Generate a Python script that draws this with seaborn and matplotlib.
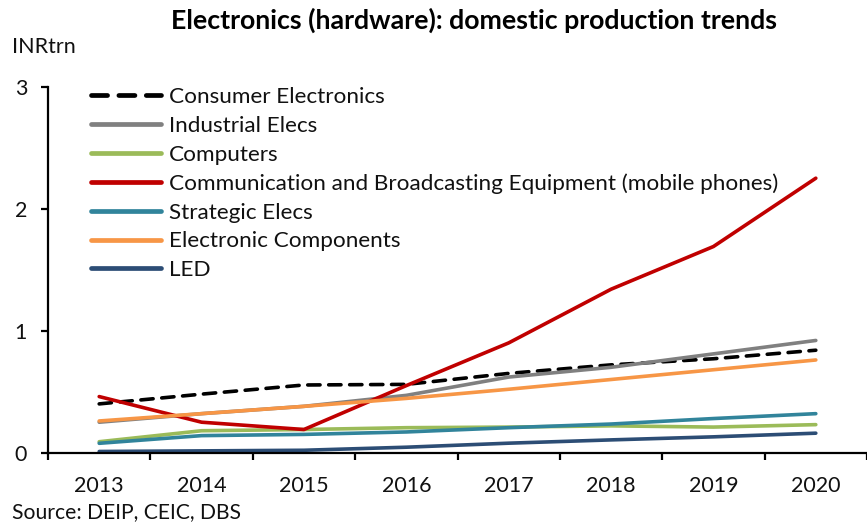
import matplotlib
matplotlib.use("Agg")
import matplotlib.pyplot as plt
import seaborn as sns
import pandas as pd

years = ["2013", "2014", "2015", "2016", "2017", "2018", "2019", "2020"]

consumer_electronics = [0.40, 0.48, 0.555, 0.56, 0.65, 0.72, 0.77, 0.84]
industrial_elecs = [0.25, 0.32, 0.38, 0.47, 0.62, 0.70, 0.81, 0.92]
computers = [0.09, 0.18, 0.19, 0.205, 0.21, 0.22, 0.21, 0.23]
communication = [0.46, 0.25, 0.19, 0.55, 0.90, 1.34, 1.69, 2.25]
strategic_elecs = [0.077, 0.14, 0.15, 0.17, 0.205, 0.235, 0.28, 0.32]
electronic_components = [0.26, 0.32, 0.38, 0.445, 0.52, 0.60, 0.68, 0.76]
led = [0.01, 0.015, 0.02, 0.045, 0.078, 0.105, 0.13, 0.16]

series_names = [
    "Consumer Electronics",
    "Industrial Elecs",
    "Computers",
    "Communication and Broadcasting Equipment (mobile phones)",
    "Strategic Elecs",
    "Electronic Components",
    "LED",
]
series_values = [
    consumer_electronics, industrial_elecs, computers, communication,
    strategic_elecs, electronic_components, led,
]
colors = ["#000000", "#808080", "#9BBB59", "#C00000", "#31849B", "#F79646", "#2C4D75"]

rows = []
for name, vals in zip(series_names, series_values):
    for i, v in enumerate(vals):
        rows.append({"pos": i, "year": years[i], "series": name, "value": v})
df = pd.DataFrame(rows)

sns.set_theme(style="white")
plt.rcParams["font.family"] = ["Lato", "DejaVu Sans"]

fig = plt.figure(figsize=(8.67, 5.24), dpi=100)
ax = fig.add_axes([48 / 867, 71.3 / 524, (867 - 48) / 867, 366 / 524])

lw = 2.6
for name, color in zip(series_names, colors):
    sub = df[df["series"] == name]
    sns.lineplot(
        data=sub, x="pos", y="value", ax=ax, color=color, linewidth=lw,
        label=name, solid_capstyle="round", dash_capstyle="round",
    )
    if name == "Consumer Electronics":
        ax.lines[-1].set_dashes((3.4, 2.4))

ax.set_xlim(-0.5, 7.468)
ax.set_ylim(0, 3)
ax.set_xticks(range(len(years)))
ax.set_xticklabels(years)
ax.set_xticks([i - 0.5 for i in range(len(years) + 1)], minor=True)
ax.set_yticks([0, 1, 2, 3])
ax.set_yticklabels(["0", "1", "2", "3"])
ax.set_xlabel("")
ax.set_ylabel("")

for side in ("top", "right"):
    ax.spines[side].set_visible(False)
for side in ("left", "bottom"):
    ax.spines[side].set_color("black")
    ax.spines[side].set_linewidth(1.6)

ax.tick_params(axis="x", which="major", length=0, pad=17, labelsize=15.5, colors="#000000")
ax.tick_params(axis="x", which="minor", length=5, width=1.6, direction="out", color="black", bottom=True)
ax.tick_params(axis="y", which="major", length=5, width=1.6, direction="out", color="black",
               labelsize=15.5, pad=10, left=True)
for t in ax.get_xticklabels() + ax.get_yticklabels():
    t.set_color("#111111")

leg = ax.legend(
    loc="upper left", bbox_to_anchor=(91 / 867, 1 - 87 / 524), bbox_transform=fig.transFigure,
    frameon=False, fontsize=16.2, handlelength=3.1, handletextpad=0.35,
    labelspacing=0.39, borderpad=0, borderaxespad=0,
)
for line in leg.get_lines():
    line.set_linewidth(3.4)
for t in leg.get_texts():
    t.set_color("#111111")

fig.text(474 / 867, 1 - 20 / 524, "Electronics (hardware): domestic production trends",
         ha="center", va="center", fontsize=19.3, fontweight="bold", color="#000000")
fig.text(12 / 867, 1 - 47 / 524, "INRtrn", ha="left", va="center", fontsize=15.5, color="#111111")
fig.text(12 / 867, 1 - 512 / 524, "Source: DEIP, CEIC, DBS", ha="left", va="center",
         fontsize=15.2, color="#111111")

fig.savefig("out.png", dpi=100)
